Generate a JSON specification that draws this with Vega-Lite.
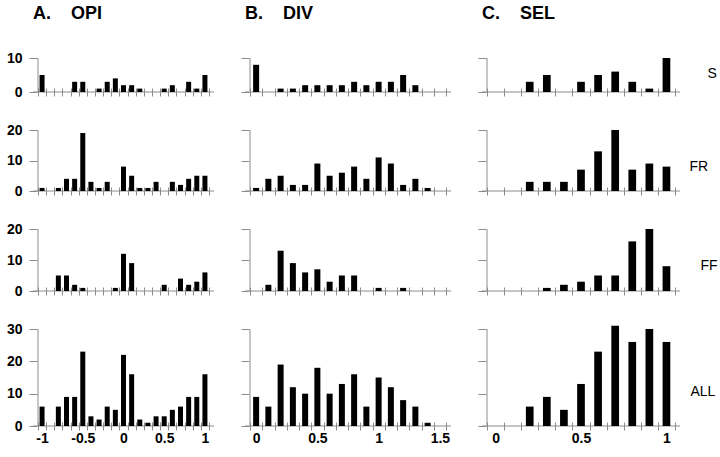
{
 "$schema": "https://vega.github.io/schema/vega-lite/v6.json",
 "padding": {"left": 6, "top": 4, "right": 0, "bottom": 0},
 "background": "white",
 "config": {
  "view": {"stroke": null},
  "axis": {"grid": false, "domain": false, "tickColor": "#8c8c8c", "tickSize": 8, "tickWidth": 1, "labelFont": "Liberation Sans", "labelFontSize": 14, "labelFontWeight": "bold", "labelColor": "#000", "labelPadding": 1},
  "title": {"font": "Liberation Sans", "color": "#000"}
 },
 "datasets": {
  "opiS": [{"v":-1,"n":5},{"v":-0.6,"n":3},{"v":-0.5,"n":3},{"v":-0.3,"n":1},{"v":-0.2,"n":3},{"v":-0.1,"n":4},{"v":0,"n":2},{"v":0.1,"n":2},{"v":0.2,"n":1},{"v":0.5,"n":1},{"v":0.6,"n":2},{"v":0.8,"n":3},{"v":0.9,"n":1},{"v":1,"n":5}],
  "opiFR": [{"v":-1,"n":1},{"v":-0.8,"n":1},{"v":-0.7,"n":4},{"v":-0.6,"n":4},{"v":-0.5,"n":19},{"v":-0.4,"n":3},{"v":-0.3,"n":1},{"v":-0.2,"n":3},{"v":0,"n":8},{"v":0.1,"n":5},{"v":0.2,"n":1},{"v":0.3,"n":1},{"v":0.4,"n":3},{"v":0.6,"n":3},{"v":0.7,"n":2},{"v":0.8,"n":4},{"v":0.9,"n":5},{"v":1,"n":5}],
  "opiFF": [{"v":-0.8,"n":5},{"v":-0.7,"n":5},{"v":-0.6,"n":2},{"v":-0.5,"n":1},{"v":-0.1,"n":1},{"v":0,"n":12},{"v":0.1,"n":9},{"v":0.5,"n":2},{"v":0.7,"n":4},{"v":0.8,"n":2},{"v":0.9,"n":3},{"v":1,"n":6}],
  "opiALL": [{"v":-1,"n":6},{"v":-0.8,"n":6},{"v":-0.7,"n":9},{"v":-0.6,"n":9},{"v":-0.5,"n":23},{"v":-0.4,"n":3},{"v":-0.3,"n":2},{"v":-0.2,"n":6},{"v":-0.1,"n":5},{"v":0,"n":22},{"v":0.1,"n":16},{"v":0.2,"n":2},{"v":0.3,"n":1},{"v":0.4,"n":3},{"v":0.5,"n":3},{"v":0.6,"n":5},{"v":0.7,"n":6},{"v":0.8,"n":9},{"v":0.9,"n":9},{"v":1,"n":16}],
  "divS": [{"v":0,"n":8},{"v":0.2,"n":1},{"v":0.3,"n":1},{"v":0.4,"n":2},{"v":0.5,"n":2},{"v":0.6,"n":2},{"v":0.7,"n":2},{"v":0.8,"n":3},{"v":0.9,"n":2},{"v":1,"n":3},{"v":1.1,"n":3},{"v":1.2,"n":5},{"v":1.3,"n":2}],
  "divFR": [{"v":0,"n":1},{"v":0.1,"n":4},{"v":0.2,"n":5},{"v":0.3,"n":2},{"v":0.4,"n":2},{"v":0.5,"n":9},{"v":0.6,"n":5},{"v":0.7,"n":6},{"v":0.8,"n":8},{"v":0.9,"n":4},{"v":1,"n":11},{"v":1.1,"n":9},{"v":1.2,"n":2},{"v":1.3,"n":4},{"v":1.4,"n":1}],
  "divFF": [{"v":0.1,"n":2},{"v":0.2,"n":13},{"v":0.3,"n":9},{"v":0.4,"n":6},{"v":0.5,"n":7},{"v":0.6,"n":3},{"v":0.7,"n":5},{"v":0.8,"n":5},{"v":1,"n":1},{"v":1.2,"n":1}],
  "divALL": [{"v":0,"n":9},{"v":0.1,"n":6},{"v":0.2,"n":19},{"v":0.3,"n":12},{"v":0.4,"n":10},{"v":0.5,"n":18},{"v":0.6,"n":10},{"v":0.7,"n":13},{"v":0.8,"n":16},{"v":0.9,"n":6},{"v":1,"n":15},{"v":1.1,"n":12},{"v":1.2,"n":8},{"v":1.3,"n":6},{"v":1.4,"n":1}],
  "selS": [{"v":0.2,"n":3},{"v":0.3,"n":5},{"v":0.5,"n":3},{"v":0.6,"n":5},{"v":0.7,"n":6},{"v":0.8,"n":3},{"v":0.9,"n":1},{"v":1,"n":10}],
  "selFR": [{"v":0.2,"n":3},{"v":0.3,"n":3},{"v":0.4,"n":3},{"v":0.5,"n":7},{"v":0.6,"n":13},{"v":0.7,"n":20},{"v":0.8,"n":7},{"v":0.9,"n":9},{"v":1,"n":8}],
  "selFF": [{"v":0.3,"n":1},{"v":0.4,"n":2},{"v":0.5,"n":3},{"v":0.6,"n":5},{"v":0.7,"n":5},{"v":0.8,"n":16},{"v":0.9,"n":20},{"v":1,"n":8}],
  "selALL": [{"v":0.2,"n":6},{"v":0.3,"n":9},{"v":0.4,"n":5},{"v":0.5,"n":13},{"v":0.6,"n":23},{"v":0.7,"n":31},{"v":0.8,"n":26},{"v":0.9,"n":30},{"v":1,"n":26}]
 },
 "columns": 3,
 "spacing": {"row": 38, "column": 31},
 "bounds": "flush",
 "align": "each",
 "concat": [
  {"width": 181, "height": 34,
   "title": {"text": "A.\u00a0\u00a0\u00a0\u00a0OPI", "anchor": "start", "frame": "group", "fontSize": 18, "fontWeight": "bold", "baseline": "alphabetic", "offset": 14},
   "layer": [
    {"data": {"values": [{}]}, "mark": {"type": "rule", "color": "#8c8c8c"}, "encoding": {"y": {"datum": 0, "type": "quantitative", "scale": {"domain": [0, 10], "nice": false}, "axis": {"values": [0, 10], "title": null, "offset": -4, "labelPadding": 7}}}},
    {"data": {"values": [{}]}, "mark": {"type": "rule", "color": "#8c8c8c"}, "encoding": {"x": {"datum": -1.05, "type": "quantitative", "scale": {"domain": [-1.05, 1.05], "nice": false, "zero": false}, "axis": {"values": [-1.05,-0.95,-0.85,-0.75,-0.65,-0.55,-0.45,-0.35,-0.25,-0.15,-0.05,0.05,0.15,0.25,0.35,0.45,0.55,0.65,0.75,0.85,0.95,1.05], "labels": false, "title": null, "offset": -4}}}},
    {"data": {"name": "opiS"}, "mark": {"type": "bar", "orient": "vertical", "width": 5, "color": "#000"},
     "encoding": {
      "x": {"field": "v", "type": "quantitative", "scale": {"domain": [-1.05, 1.05], "nice": false, "zero": false}, "axis": {"values": [-1.05,-0.95,-0.85,-0.75,-0.65,-0.55,-0.45,-0.35,-0.25,-0.15,-0.05,0.05,0.15,0.25,0.35,0.45,0.55,0.65,0.75,0.85,0.95,1.05], "labels": false, "title": null, "offset": -4}},
      "y": {"field": "n", "type": "quantitative", "scale": {"domain": [0, 10], "nice": false}, "axis": {"values": [0, 10], "title": null, "offset": -4, "labelPadding": 7}}}}
   ]},
  {"width": 206, "height": 34,
   "title": {"text": "B.\u00a0\u00a0\u00a0\u00a0DIV", "anchor": "start", "frame": "group", "fontSize": 18, "fontWeight": "bold", "baseline": "alphabetic", "offset": 21},
   "layer": [
    {"data": {"values": [{}]}, "mark": {"type": "rule", "color": "#8c8c8c"}, "encoding": {"y": {"datum": 0, "type": "quantitative", "scale": {"domain": [0, 10], "nice": false}, "axis": {"values": [0, 10], "title": null, "offset": -4, "labels": false}}}},
    {"data": {"values": [{}]}, "mark": {"type": "rule", "color": "#8c8c8c"}, "encoding": {"x": {"datum": -0.05, "type": "quantitative", "scale": {"domain": [-0.05, 1.55], "nice": false, "zero": false}, "axis": {"values": [-0.05,0.05,0.15,0.25,0.35,0.45,0.55,0.65,0.75,0.85,0.95,1.05,1.15,1.25,1.35,1.45,1.55], "labels": false, "title": null, "offset": -4}}}},
    {"data": {"name": "divS"}, "mark": {"type": "bar", "orient": "vertical", "width": 6, "color": "#000"},
     "encoding": {
      "x": {"field": "v", "type": "quantitative", "scale": {"domain": [-0.05, 1.55], "nice": false, "zero": false}, "axis": {"values": [-0.05,0.05,0.15,0.25,0.35,0.45,0.55,0.65,0.75,0.85,0.95,1.05,1.15,1.25,1.35,1.45,1.55], "labels": false, "title": null, "offset": -4}},
      "y": {"field": "n", "type": "quantitative", "scale": {"domain": [0, 10], "nice": false}, "axis": {"values": [0, 10], "title": null, "offset": -4, "labels": false}}}}
   ]},
  {"width": 198, "height": 34,
   "title": {"text": "C.\u00a0\u00a0\u00a0\u00a0SEL", "anchor": "start", "frame": "group", "fontSize": 18, "fontWeight": "bold", "baseline": "alphabetic", "offset": 21},
   "resolve": {"axis": {"y": "independent"}},
   "layer": [
    {"data": {"values": [{}]}, "mark": {"type": "rule", "color": "#8c8c8c"}, "encoding": {"y": {"datum": 0, "type": "quantitative", "scale": {"domain": [0, 10], "nice": false}, "axis": {"orient": "right", "title": "S", "values": [], "ticks": false, "labels": false, "domain": false, "titleAngle": 0, "titleAlign": "left", "titleBaseline": "middle", "titleX": 27, "titleY": 15, "titleFont": "Liberation Sans", "titleFontSize": 14, "titleFontWeight": "normal", "titleColor": "#000"}}}},
    {"data": {"values": [{}]}, "mark": {"type": "rule", "color": "#8c8c8c"}, "encoding": {"x": {"datum": -0.05, "type": "quantitative", "scale": {"domain": [-0.05, 1.05], "nice": false, "zero": false}, "axis": {"values": [-0.05,0.05,0.15,0.25,0.35,0.45,0.55,0.65,0.75,0.85,0.95,1.05], "labels": false, "title": null, "offset": -4}}}},
    {"data": {"name": "selS"}, "mark": {"type": "bar", "orient": "vertical", "width": 7.7, "color": "#000"},
     "encoding": {
      "x": {"field": "v", "type": "quantitative", "scale": {"domain": [-0.05, 1.05], "nice": false, "zero": false}, "axis": {"values": [-0.05,0.05,0.15,0.25,0.35,0.45,0.55,0.65,0.75,0.85,0.95,1.05], "labels": false, "title": null, "offset": -4}},
      "y": {"field": "n", "type": "quantitative", "scale": {"domain": [0, 10], "nice": false}, "axis": {"values": [0, 10], "title": null, "offset": -4, "labels": false, "orient": "left"}}}}
   ]},
  {"width": 181, "height": 61,
   "layer": [
    {"data": {"values": [{}]}, "mark": {"type": "rule", "color": "#8c8c8c"}, "encoding": {"y": {"datum": 0, "type": "quantitative", "scale": {"domain": [0, 20], "nice": false}, "axis": {"values": [0, 10, 20], "title": null, "offset": -4, "labelPadding": 7}}}},
    {"data": {"values": [{}]}, "mark": {"type": "rule", "color": "#8c8c8c"}, "encoding": {"x": {"datum": -1.05, "type": "quantitative", "scale": {"domain": [-1.05, 1.05], "nice": false, "zero": false}, "axis": {"values": [-1.05,-0.95,-0.85,-0.75,-0.65,-0.55,-0.45,-0.35,-0.25,-0.15,-0.05,0.05,0.15,0.25,0.35,0.45,0.55,0.65,0.75,0.85,0.95,1.05], "labels": false, "title": null, "offset": -4}}}},
    {"data": {"name": "opiFR"}, "mark": {"type": "bar", "orient": "vertical", "width": 5, "color": "#000"},
     "encoding": {
      "x": {"field": "v", "type": "quantitative", "scale": {"domain": [-1.05, 1.05], "nice": false, "zero": false}, "axis": {"values": [-1.05,-0.95,-0.85,-0.75,-0.65,-0.55,-0.45,-0.35,-0.25,-0.15,-0.05,0.05,0.15,0.25,0.35,0.45,0.55,0.65,0.75,0.85,0.95,1.05], "labels": false, "title": null, "offset": -4}},
      "y": {"field": "n", "type": "quantitative", "scale": {"domain": [0, 20], "nice": false}, "axis": {"values": [0, 10, 20], "title": null, "offset": -4, "labelPadding": 7}}}}
   ]},
  {"width": 206, "height": 61,
   "layer": [
    {"data": {"values": [{}]}, "mark": {"type": "rule", "color": "#8c8c8c"}, "encoding": {"y": {"datum": 0, "type": "quantitative", "scale": {"domain": [0, 20], "nice": false}, "axis": {"values": [0, 10, 20], "title": null, "offset": -4, "labels": false}}}},
    {"data": {"values": [{}]}, "mark": {"type": "rule", "color": "#8c8c8c"}, "encoding": {"x": {"datum": -0.05, "type": "quantitative", "scale": {"domain": [-0.05, 1.55], "nice": false, "zero": false}, "axis": {"values": [-0.05,0.05,0.15,0.25,0.35,0.45,0.55,0.65,0.75,0.85,0.95,1.05,1.15,1.25,1.35,1.45,1.55], "labels": false, "title": null, "offset": -4}}}},
    {"data": {"name": "divFR"}, "mark": {"type": "bar", "orient": "vertical", "width": 6, "color": "#000"},
     "encoding": {
      "x": {"field": "v", "type": "quantitative", "scale": {"domain": [-0.05, 1.55], "nice": false, "zero": false}, "axis": {"values": [-0.05,0.05,0.15,0.25,0.35,0.45,0.55,0.65,0.75,0.85,0.95,1.05,1.15,1.25,1.35,1.45,1.55], "labels": false, "title": null, "offset": -4}},
      "y": {"field": "n", "type": "quantitative", "scale": {"domain": [0, 20], "nice": false}, "axis": {"values": [0, 10, 20], "title": null, "offset": -4, "labels": false}}}}
   ]},
  {"width": 198, "height": 61,
   "resolve": {"axis": {"y": "independent"}},
   "layer": [
    {"data": {"values": [{}]}, "mark": {"type": "rule", "color": "#8c8c8c"}, "encoding": {"y": {"datum": 0, "type": "quantitative", "scale": {"domain": [0, 20], "nice": false}, "axis": {"orient": "right", "title": "FR", "values": [], "ticks": false, "labels": false, "domain": false, "titleAngle": 0, "titleAlign": "left", "titleBaseline": "middle", "titleX": 9, "titleY": 36, "titleFont": "Liberation Sans", "titleFontSize": 14, "titleFontWeight": "normal", "titleColor": "#000"}}}},
    {"data": {"values": [{}]}, "mark": {"type": "rule", "color": "#8c8c8c"}, "encoding": {"x": {"datum": -0.05, "type": "quantitative", "scale": {"domain": [-0.05, 1.05], "nice": false, "zero": false}, "axis": {"values": [-0.05,0.05,0.15,0.25,0.35,0.45,0.55,0.65,0.75,0.85,0.95,1.05], "labels": false, "title": null, "offset": -4}}}},
    {"data": {"name": "selFR"}, "mark": {"type": "bar", "orient": "vertical", "width": 7.7, "color": "#000"},
     "encoding": {
      "x": {"field": "v", "type": "quantitative", "scale": {"domain": [-0.05, 1.05], "nice": false, "zero": false}, "axis": {"values": [-0.05,0.05,0.15,0.25,0.35,0.45,0.55,0.65,0.75,0.85,0.95,1.05], "labels": false, "title": null, "offset": -4}},
      "y": {"field": "n", "type": "quantitative", "scale": {"domain": [0, 20], "nice": false}, "axis": {"values": [0, 10, 20], "title": null, "offset": -4, "labels": false, "orient": "left"}}}}
   ]},
  {"width": 181, "height": 62,
   "layer": [
    {"data": {"values": [{}]}, "mark": {"type": "rule", "color": "#8c8c8c"}, "encoding": {"y": {"datum": 0, "type": "quantitative", "scale": {"domain": [0, 20], "nice": false}, "axis": {"values": [0, 10, 20], "title": null, "offset": -4, "labelPadding": 7}}}},
    {"data": {"values": [{}]}, "mark": {"type": "rule", "color": "#8c8c8c"}, "encoding": {"x": {"datum": -1.05, "type": "quantitative", "scale": {"domain": [-1.05, 1.05], "nice": false, "zero": false}, "axis": {"values": [-1.05,-0.95,-0.85,-0.75,-0.65,-0.55,-0.45,-0.35,-0.25,-0.15,-0.05,0.05,0.15,0.25,0.35,0.45,0.55,0.65,0.75,0.85,0.95,1.05], "labels": false, "title": null, "offset": -4}}}},
    {"data": {"name": "opiFF"}, "mark": {"type": "bar", "orient": "vertical", "width": 5, "color": "#000"},
     "encoding": {
      "x": {"field": "v", "type": "quantitative", "scale": {"domain": [-1.05, 1.05], "nice": false, "zero": false}, "axis": {"values": [-1.05,-0.95,-0.85,-0.75,-0.65,-0.55,-0.45,-0.35,-0.25,-0.15,-0.05,0.05,0.15,0.25,0.35,0.45,0.55,0.65,0.75,0.85,0.95,1.05], "labels": false, "title": null, "offset": -4}},
      "y": {"field": "n", "type": "quantitative", "scale": {"domain": [0, 20], "nice": false}, "axis": {"values": [0, 10, 20], "title": null, "offset": -4, "labelPadding": 7}}}}
   ]},
  {"width": 206, "height": 62,
   "layer": [
    {"data": {"values": [{}]}, "mark": {"type": "rule", "color": "#8c8c8c"}, "encoding": {"y": {"datum": 0, "type": "quantitative", "scale": {"domain": [0, 20], "nice": false}, "axis": {"values": [0, 10, 20], "title": null, "offset": -4, "labels": false}}}},
    {"data": {"values": [{}]}, "mark": {"type": "rule", "color": "#8c8c8c"}, "encoding": {"x": {"datum": -0.05, "type": "quantitative", "scale": {"domain": [-0.05, 1.55], "nice": false, "zero": false}, "axis": {"values": [-0.05,0.05,0.15,0.25,0.35,0.45,0.55,0.65,0.75,0.85,0.95,1.05,1.15,1.25,1.35,1.45,1.55], "labels": false, "title": null, "offset": -4}}}},
    {"data": {"name": "divFF"}, "mark": {"type": "bar", "orient": "vertical", "width": 6, "color": "#000"},
     "encoding": {
      "x": {"field": "v", "type": "quantitative", "scale": {"domain": [-0.05, 1.55], "nice": false, "zero": false}, "axis": {"values": [-0.05,0.05,0.15,0.25,0.35,0.45,0.55,0.65,0.75,0.85,0.95,1.05,1.15,1.25,1.35,1.45,1.55], "labels": false, "title": null, "offset": -4}},
      "y": {"field": "n", "type": "quantitative", "scale": {"domain": [0, 20], "nice": false}, "axis": {"values": [0, 10, 20], "title": null, "offset": -4, "labels": false}}}}
   ]},
  {"width": 198, "height": 62,
   "resolve": {"axis": {"y": "independent"}},
   "layer": [
    {"data": {"values": [{}]}, "mark": {"type": "rule", "color": "#8c8c8c"}, "encoding": {"y": {"datum": 0, "type": "quantitative", "scale": {"domain": [0, 20], "nice": false}, "axis": {"orient": "right", "title": "FF", "values": [], "ticks": false, "labels": false, "domain": false, "titleAngle": 0, "titleAlign": "left", "titleBaseline": "middle", "titleX": 20, "titleY": 36, "titleFont": "Liberation Sans", "titleFontSize": 14, "titleFontWeight": "normal", "titleColor": "#000"}}}},
    {"data": {"values": [{}]}, "mark": {"type": "rule", "color": "#8c8c8c"}, "encoding": {"x": {"datum": -0.05, "type": "quantitative", "scale": {"domain": [-0.05, 1.05], "nice": false, "zero": false}, "axis": {"values": [-0.05,0.05,0.15,0.25,0.35,0.45,0.55,0.65,0.75,0.85,0.95,1.05], "labels": false, "title": null, "offset": -4}}}},
    {"data": {"name": "selFF"}, "mark": {"type": "bar", "orient": "vertical", "width": 7.7, "color": "#000"},
     "encoding": {
      "x": {"field": "v", "type": "quantitative", "scale": {"domain": [-0.05, 1.05], "nice": false, "zero": false}, "axis": {"values": [-0.05,0.05,0.15,0.25,0.35,0.45,0.55,0.65,0.75,0.85,0.95,1.05], "labels": false, "title": null, "offset": -4}},
      "y": {"field": "n", "type": "quantitative", "scale": {"domain": [0, 20], "nice": false}, "axis": {"values": [0, 10, 20], "title": null, "offset": -4, "labels": false, "orient": "left"}}}}
   ]},
  {"width": 181, "height": 97,
   "layer": [
    {"data": {"values": [{}]}, "mark": {"type": "rule", "color": "#8c8c8c"}, "encoding": {"y": {"datum": 0, "type": "quantitative", "scale": {"domain": [0, 30], "nice": false}, "axis": {"values": [0, 10, 20, 30], "title": null, "offset": -4, "labelPadding": 7}}}},
    {"data": {"values": [{}]}, "mark": {"type": "rule", "color": "#8c8c8c"}, "encoding": {"x": {"datum": -1.05, "type": "quantitative", "scale": {"domain": [-1.05, 1.05], "nice": false, "zero": false}, "axis": {"values": [-1.05,-0.95,-0.85,-0.75,-0.65,-0.55,-0.45,-0.35,-0.25,-0.15,-0.05,0.05,0.15,0.25,0.35,0.45,0.55,0.65,0.75,0.85,0.95,1.05,-1,-0.5,0,0.5,1], "title": null, "offset": -4, "labelOverlap": false, "labelFlush": false, "labelExpr": "abs(round(datum.value*20)) % 10 == 0 ? '' + datum.value : ''", "tickOpacity": {"condition": {"test": "abs(round(datum.value*20)) % 2 == 1", "value": 1}, "value": 0}}}}},
    {"data": {"name": "opiALL"}, "mark": {"type": "bar", "orient": "vertical", "width": 5, "color": "#000"},
     "encoding": {
      "x": {"field": "v", "type": "quantitative", "scale": {"domain": [-1.05, 1.05], "nice": false, "zero": false}, "axis": {"values": [-1.05,-0.95,-0.85,-0.75,-0.65,-0.55,-0.45,-0.35,-0.25,-0.15,-0.05,0.05,0.15,0.25,0.35,0.45,0.55,0.65,0.75,0.85,0.95,1.05,-1,-0.5,0,0.5,1], "title": null, "offset": -4, "labelOverlap": false, "labelFlush": false, "labelExpr": "abs(round(datum.value*20)) % 10 == 0 ? '' + datum.value : ''", "tickOpacity": {"condition": {"test": "abs(round(datum.value*20)) % 2 == 1", "value": 1}, "value": 0}}},
      "y": {"field": "n", "type": "quantitative", "scale": {"domain": [0, 30], "nice": false}, "axis": {"values": [0, 10, 20, 30], "title": null, "offset": -4, "labelPadding": 7}}}}
   ]},
  {"width": 206, "height": 97,
   "layer": [
    {"data": {"values": [{}]}, "mark": {"type": "rule", "color": "#8c8c8c"}, "encoding": {"y": {"datum": 0, "type": "quantitative", "scale": {"domain": [0, 30], "nice": false}, "axis": {"values": [0, 10, 20, 30], "title": null, "offset": -4, "labels": false}}}},
    {"data": {"values": [{}]}, "mark": {"type": "rule", "color": "#8c8c8c"}, "encoding": {"x": {"datum": -0.05, "type": "quantitative", "scale": {"domain": [-0.05, 1.55], "nice": false, "zero": false}, "axis": {"values": [-0.05,0.05,0.15,0.25,0.35,0.45,0.55,0.65,0.75,0.85,0.95,1.05,1.15,1.25,1.35,1.45,1.55,0,0.5,1,1.5], "title": null, "offset": -4, "labelOverlap": false, "labelFlush": false, "labelExpr": "abs(round(datum.value*20)) % 10 == 0 ? '' + datum.value : ''", "tickOpacity": {"condition": {"test": "abs(round(datum.value*20)) % 2 == 1", "value": 1}, "value": 0}}}}},
    {"data": {"name": "divALL"}, "mark": {"type": "bar", "orient": "vertical", "width": 6, "color": "#000"},
     "encoding": {
      "x": {"field": "v", "type": "quantitative", "scale": {"domain": [-0.05, 1.55], "nice": false, "zero": false}, "axis": {"values": [-0.05,0.05,0.15,0.25,0.35,0.45,0.55,0.65,0.75,0.85,0.95,1.05,1.15,1.25,1.35,1.45,1.55,0,0.5,1,1.5], "title": null, "offset": -4, "labelOverlap": false, "labelFlush": false, "labelExpr": "abs(round(datum.value*20)) % 10 == 0 ? '' + datum.value : ''", "tickOpacity": {"condition": {"test": "abs(round(datum.value*20)) % 2 == 1", "value": 1}, "value": 0}}},
      "y": {"field": "n", "type": "quantitative", "scale": {"domain": [0, 30], "nice": false}, "axis": {"values": [0, 10, 20, 30], "title": null, "offset": -4, "labels": false}}}}
   ]},
  {"width": 198, "height": 97,
   "resolve": {"axis": {"y": "independent"}},
   "layer": [
    {"data": {"values": [{}]}, "mark": {"type": "rule", "color": "#8c8c8c"}, "encoding": {"y": {"datum": 0, "type": "quantitative", "scale": {"domain": [0, 30], "nice": false}, "axis": {"orient": "right", "title": "ALL", "values": [], "ticks": false, "labels": false, "domain": false, "titleAngle": 0, "titleAlign": "left", "titleBaseline": "middle", "titleX": 10, "titleY": 62, "titleFont": "Liberation Sans", "titleFontSize": 14, "titleFontWeight": "normal", "titleColor": "#000"}}}},
    {"data": {"values": [{}]}, "mark": {"type": "rule", "color": "#8c8c8c"}, "encoding": {"x": {"datum": -0.05, "type": "quantitative", "scale": {"domain": [-0.05, 1.05], "nice": false, "zero": false}, "axis": {"values": [-0.05,0.05,0.15,0.25,0.35,0.45,0.55,0.65,0.75,0.85,0.95,1.05,0,0.5,1], "title": null, "offset": -4, "labelOverlap": false, "labelFlush": false, "labelExpr": "abs(round(datum.value*20)) % 10 == 0 ? '' + datum.value : ''", "tickOpacity": {"condition": {"test": "abs(round(datum.value*20)) % 2 == 1", "value": 1}, "value": 0}}}}},
    {"data": {"name": "selALL"}, "mark": {"type": "bar", "orient": "vertical", "width": 7.7, "color": "#000"},
     "encoding": {
      "x": {"field": "v", "type": "quantitative", "scale": {"domain": [-0.05, 1.05], "nice": false, "zero": false}, "axis": {"values": [-0.05,0.05,0.15,0.25,0.35,0.45,0.55,0.65,0.75,0.85,0.95,1.05,0,0.5,1], "title": null, "offset": -4, "labelOverlap": false, "labelFlush": false, "labelExpr": "abs(round(datum.value*20)) % 10 == 0 ? '' + datum.value : ''", "tickOpacity": {"condition": {"test": "abs(round(datum.value*20)) % 2 == 1", "value": 1}, "value": 0}}},
      "y": {"field": "n", "type": "quantitative", "scale": {"domain": [0, 30], "nice": false}, "axis": {"values": [0, 10, 20, 30], "title": null, "offset": -4, "labels": false, "orient": "left"}}}}
   ]}
 ]
}
